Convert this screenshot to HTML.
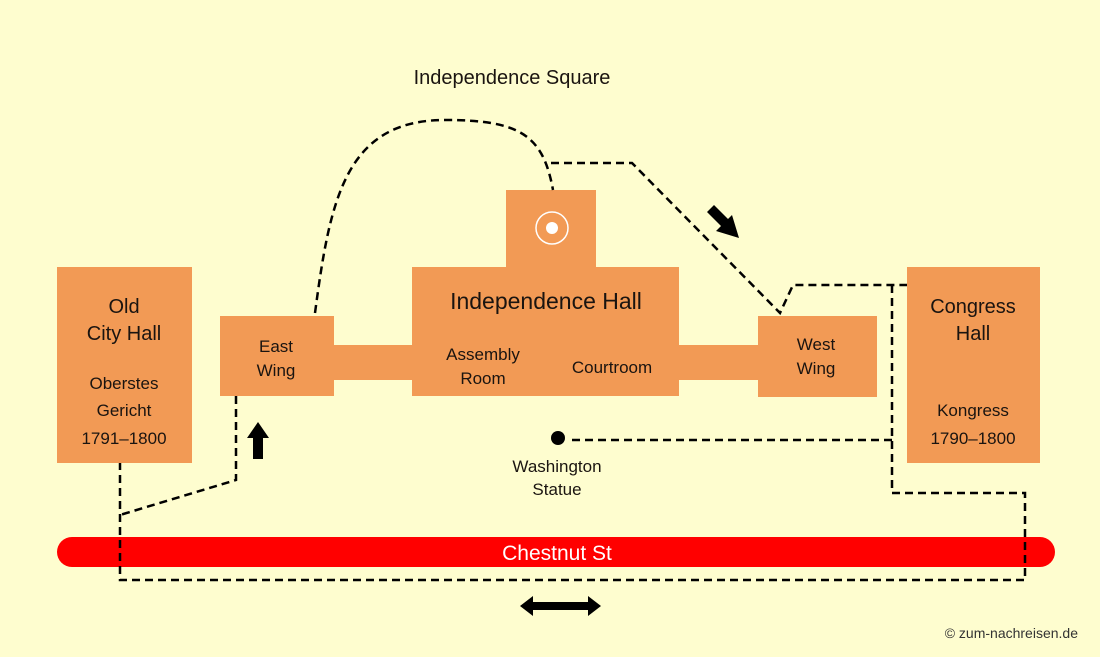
<!DOCTYPE html>
<html><head><meta charset="utf-8"><style>
html,body{margin:0;padding:0;background:#FEFDCF;}
svg{display:block}
text{font-family:"Liberation Sans",sans-serif;fill:#1a1410}
</style></head><body>
<svg width="1100" height="657" viewBox="0 0 1100 657" xmlns="http://www.w3.org/2000/svg">
<rect width="1100" height="657" fill="#FEFDCF"/>
<g fill="#F29A55">
<rect x="57" y="267" width="135" height="196"/>
<rect x="220" y="316" width="114" height="80"/>
<rect x="334" y="345" width="80" height="35"/>
<rect x="412" y="267" width="267" height="129"/>
<rect x="506" y="190" width="90" height="78"/>
<rect x="679" y="345" width="80" height="35"/>
<rect x="758" y="316" width="119" height="81"/>
<rect x="907" y="267" width="133" height="196"/>
</g>
<circle cx="552" cy="228" r="16" fill="none" stroke="#fff" stroke-width="1.5"/>
<circle cx="552" cy="228" r="6" fill="#fff"/>
<rect x="57" y="537" width="998" height="30" rx="15" fill="#FF0000"/>
<g fill="none" stroke="#000" stroke-width="2.5" stroke-dasharray="8,5">
<path d="M315,313 C330,200 345,120 445,120 C520,120 543,135 553,190"/>
<path d="M551,163 L632,163 L780,313 L793,285 L907,285"/>
<path d="M892,285 L892,493 L1025,493 L1025,580 L120,580 L120,463"/>
<path d="M572,440 L892,440"/>
<path d="M236,396 L236,480 L120,515"/>
</g>
<circle cx="558" cy="438" r="7" fill="#000"/>
<g fill="#000">
<polygon points="253,459 263,459 263,438 269,438 258,422 247,438 253,438"/>
<polygon points="707,212 714,205 728,219 732,215 739,238 716,231 721,226"/>
<polygon points="520,606 533,596 533,602 588,602 588,596 601,606 588,616 588,610 533,610 533,616"/>
</g>
<g font-size="20" text-anchor="middle">
<text x="124" y="313">Old</text>
<text x="124" y="340">City Hall</text>
<text x="546" y="309" font-size="23">Independence Hall</text>
<text x="973" y="313">Congress</text>
<text x="973" y="340">Hall</text>
</g>
<g font-size="17" text-anchor="middle">
<text x="124" y="389">Oberstes</text>
<text x="124" y="416">Gericht</text>
<text x="124" y="444">1791–1800</text>
<text x="276" y="352">East</text>
<text x="276" y="376">Wing</text>
<text x="483" y="360">Assembly</text>
<text x="483" y="384">Room</text>
<text x="612" y="373">Courtroom</text>
<text x="816" y="350">West</text>
<text x="816" y="374">Wing</text>
<text x="973" y="416">Kongress</text>
<text x="973" y="444">1790–1800</text>
<text x="557" y="472">Washington</text>
<text x="557" y="495">Statue</text>
<text x="512" y="84" font-size="20">Independence Square</text>
</g>
<text x="557" y="560" font-size="21" text-anchor="middle" style="fill:#fff">Chestnut St</text>
<text x="1078" y="638" font-size="14" text-anchor="end" style="fill:#333">© zum-nachreisen.de</text>
</svg>
</body></html>
